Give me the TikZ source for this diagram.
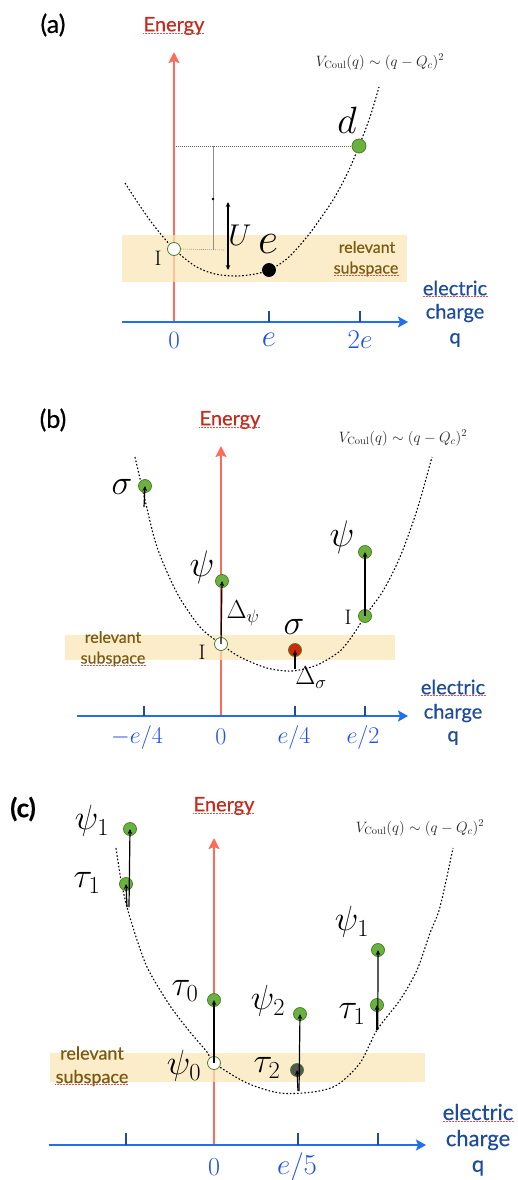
\RequirePackage{fix-cm}
\documentclass[tikz,border=0pt]{standalone}
\usepackage{fontspec}
\newfontfamily\gill{Lato}[RawFeature={embolden=0.5}]
\usepackage{xcolor}
\definecolor{cEnergy}{HTML}{FF6B5B}
\definecolor{cEnergyTxt}{HTML}{C42B1C}
\definecolor{cCharge}{HTML}{1F6FEF}
\definecolor{cTick}{HTML}{1F4FF0}
\definecolor{cChargeTxt}{HTML}{1D4C9C}
\definecolor{cBand}{HTML}{FBE6B4}
\definecolor{cBandTxt}{HTML}{7B5A12}
\definecolor{cGreen}{HTML}{6CB13F}
\definecolor{cGreenEdge}{HTML}{47822A}
\definecolor{cRed}{HTML}{D4260C}
\definecolor{cDark}{HTML}{555555}
\definecolor{cSpell}{HTML}{E8504A}
\usepackage{tikz}
\usetikzlibrary{positioning,arrows.meta}
\newcommand{\fsz}[1]{\fontsize{#1}{#1}\selectfont}
\tikzset{
  axis-energy/.style={draw=cEnergy,line width=2.6pt,
    -{Stealth[length=11pt,width=11pt,inset=2pt]}},
  axis-charge/.style={draw=cCharge,line width=2.6pt,
    -{Stealth[length=10pt,width=11pt,inset=2pt]}},
  tick-mark/.style={draw=cChargeTxt,line width=1.8pt},
  band/.style={fill=cBand,fill opacity=0.7,draw=none},
  curve/.style={draw=black,line width=1.1pt,dash pattern=on 1.6pt off 2pt},
  guide/.style={draw=black!60,line width=0.6pt,dash pattern=on 0.8pt off 1.2pt},
  gap-line/.style={draw=black!45,line width=0.8pt},
  dot/.style={circle,draw=cGreenEdge,line width=0.8pt,minimum size=13pt,inner sep=0pt},
  dot-green/.style={dot,fill=cGreen},
  dot-white/.style={dot,fill=white},
  dot-red/.style={dot,fill=cRed},
  dot-black/.style={dot,fill=black,draw=black},
  dot-dark/.style={dot,fill=cDark},
  dot-tiny/.style={circle,fill=black,minimum size=2.6pt,inner sep=0pt},
  jump/.style={-{Stealth[length=5pt,width=4.5pt]},line width=1.2pt,draw=black},
  u-arrow/.style={{Stealth[length=5pt,width=4.5pt]}-{Stealth[length=5pt,width=4.5pt]},
    line width=1.2pt,draw=black},
  lbl-panel/.style={font=\gill\fsz{25},inner sep=0pt},
  lbl-energy/.style={font=\gill\fsz{20},text=cEnergyTxt,inner sep=0pt},
  lbl-q/.style={font=\gill\fsz{20},text=cChargeTxt,inner sep=0pt},
  lbl-band/.style={font=\gill\fsz{16},text=cBandTxt,inner sep=0pt},
  lbl-tick/.style={text=cTick,inner sep=0pt},
  lbl-V/.style={font=\fsz{15},text=black!85,inner sep=0pt},
  lbl-state/.style={inner sep=0pt},
  spell/.style={draw=cSpell,line width=0.7pt,dash pattern=on 0.6pt off 0.9pt},
}

\begin{document}
\begin{tikzpicture}[x=1pt,y=-1pt]
  \useasboundingbox (0,0) rectangle (518,1180);

  % (a)
  \node[lbl-panel] (a-tag) at (53,25) {(a)};
  \node[lbl-energy] (a-en) at (174,26) {Energy};
  \draw[spell] ([yshift=-2pt]a-en.base west) -- ([yshift=-2pt]a-en.base east);
  \coordinate (a-o) at (174,322);
  \coordinate (a-top) at (174,52);
  \coordinate (a-ql) at (122,322);
  \coordinate (a-qr) at (408,322);
  \draw[axis-energy] (a-o) -- (a-top);
  \draw[axis-charge] (a-ql) -- (a-qr);
  \foreach \x in {269,360} \draw[tick-mark] (\x,322) -- (\x,311);
  \fill[band] (122,235) rectangle (407,282);
  \draw[curve] plot[smooth] coordinates {(125,183) (140,206) (155,227) (174,249)
    (195,266) (215,274) (238,276) (260,273) (275,267) (290,256) (310,233)
    (333,200) (348,172) (359,146) (370,117) (379,87)};
  \node[lbl-V] (a-V) at (380,62) {$V_{\rm Coul}(q)\sim(q-Q_c)^2$};
  \node[dot-white] (a-I) at (174,249) {};
  \node[dot-black] (a-e) at (269,270) {};
  \node[dot-green,minimum size=14pt] (a-d) at (359,146) {};
  \coordinate (a-gl) at (176,146);
  \coordinate (a-gr) at (225,250);
  \draw[guide] (a-gl) -- (a-d.west);
  \draw[guide] (a-I.east) -- (a-gr);
  \coordinate (a-ut) at (213,146);
  \coordinate (a-ub) at (213,250);
  \draw[gap-line] (a-ut) -- (a-ub);
  \node[dot-tiny] (a-um) at (213,199) {};
  \coordinate (a-u1) at (228,202);
  \coordinate (a-u2) at (228,270);
  \draw[u-arrow] (a-u1) -- (a-u2);
  \node[lbl-state,font=\fsz{21}] (a-Il) at (158,258) {$\mathrm{I}$};
  \node[lbl-state,font=\fsz{44}] (a-el) at (268,244) {$e$};
  \node[lbl-state,font=\fsz{38}] (a-dl) at (347,120) {$d$};
  \node[lbl-state,font=\fsz{30}] (a-Ul) at (240,235) {$U$};
  \node[lbl-band] (a-rel) at (367,247) {relevant};
  \node[lbl-band] (a-sub) at (366,269) {subspace};
  \draw[spell] ([yshift=-1.5pt]a-sub.base west) -- ([yshift=-1.5pt]a-sub.base east);
  \node[lbl-tick,font=\fsz{25}] (a-t0) at (174,340) {$0$};
  \node[lbl-tick,font=\fsz{31}] (a-t1) at (269,340) {$e$};
  \node[lbl-tick,font=\fsz{27}] (a-t2) at (360,340) {$2e$};
  \node[lbl-q] (a-q1) at (455,288) {electric};
  \node[lbl-q] (a-q2) at (455,313) {charge};
  \node[lbl-q] (a-q3) at (455,340) {q};
  \draw[spell] ([yshift=-1.5pt]a-q1.base west) -- ([yshift=-1.5pt]a-q1.base east);

  % (b)
  \node[lbl-panel] (b-tag) at (53,420) {(b)};
  \node[lbl-energy] (b-en) at (230,420) {Energy};
  \draw[spell] ([yshift=-2pt]b-en.base west) -- ([yshift=-2pt]b-en.base east);
  \coordinate (b-o) at (221,716);
  \coordinate (b-top) at (221,446);
  \coordinate (b-ql) at (77,716);
  \coordinate (b-qr) at (408,716);
  \draw[axis-energy] (b-o) -- (b-top);
  \draw[axis-charge] (b-ql) -- (b-qr);
  \foreach \x in {144,295,365} \draw[tick-mark] (\x,716) -- (\x,706);
  \fill[band] (65,635) rectangle (395,660);
  \draw[curve] plot[smooth] coordinates {(135,457) (145,500) (157,547) (177,593)
    (200,627) (221,644) (240,657) (267,668) (292,671) (317,665) (340,651)
    (355,632) (365,616) (383,591) (400,557) (417,510) (432,457)};
  \node[lbl-V] (b-V) at (403,438) {$V_{\rm Coul}(q)\sim(q-Q_c)^2$};
  \node[dot-green] (b-sl) at (145,486) {};
  \node[dot-green] (b-p0) at (222,581) {};
  \node[dot-white] (b-I0) at (221,644) {};
  \node[dot-red] (b-s) at (295,650) {};
  \node[dot-green] (b-p2) at (365,552) {};
  \node[dot-green] (b-I2) at (365,616) {};
  \coordinate (b-slb) at (144,507);
  \coordinate (b-sb) at (295,669);
  \draw[jump] (b-slb) -- (b-sl.center);
  \draw[jump] (b-I0.center) -- (b-p0.center);
  \draw[jump] (b-sb) -- (b-s.center);
  \draw[jump] (b-I2.center) -- (b-p2.center);
  \node[lbl-state,font=\fsz{35}] (b-sll) at (122,487) {$\sigma$};
  \node[lbl-state,font=\fsz{37}] (b-p0l) at (202,567) {$\psi$};
  \node[lbl-state,font=\fsz{26}] (b-dpl) at (243,613) {$\Delta_\psi$};
  \node[lbl-state,font=\fsz{21}] (b-I0l) at (202,652) {$\mathrm{I}$};
  \node[lbl-state,font=\fsz{35}] (b-sl2) at (294,627) {$\sigma$};
  \node[lbl-state,font=\fsz{26}] (b-dsl) at (311,678) {$\Delta_\sigma$};
  \node[lbl-state,font=\fsz{37}] (b-p2l) at (342,537) {$\psi$};
  \node[lbl-state,font=\fsz{21}] (b-I2l) at (348,617) {$\mathrm{I}$};
  \node[lbl-band] (b-rel) at (113,637) {relevant};
  \node[lbl-band] (b-sub) at (113,659) {subspace};
  \draw[spell] ([yshift=-1.5pt]b-sub.base west) -- ([yshift=-1.5pt]b-sub.base east);
  \node[lbl-tick,font=\fsz{24}] (b-tm) at (137,737) {$-e/4$};
  \node[lbl-tick,font=\fsz{24}] (b-t0) at (221,737) {$0$};
  \node[lbl-tick,font=\fsz{24}] (b-t1) at (294,737) {$e/4$};
  \node[lbl-tick,font=\fsz{24}] (b-t2) at (363,737) {$e/2$};
  \node[lbl-q] (b-q1) at (453,687) {electric};
  \node[lbl-q] (b-q2) at (453,713) {charge};
  \node[lbl-q] (b-q3) at (453,738) {q};
  \draw[spell] ([yshift=-1.5pt]b-q1.base west) -- ([yshift=-1.5pt]b-q1.base east);

  % (c)
  \node[lbl-panel,font=\gill\bfseries\fsz{26}] (c-tag) at (23,809) {(c)};
  \node[lbl-energy] (c-en) at (224,806) {Energy};
  \draw[spell] ([yshift=-2pt]c-en.base west) -- ([yshift=-2pt]c-en.base east);
  \coordinate (c-o) at (214,1145);
  \coordinate (c-top) at (214,838);
  \coordinate (c-ql) at (49,1145);
  \coordinate (c-qr) at (426,1145);
  \draw[axis-energy] (c-o) -- (c-top);
  \draw[axis-charge] (c-ql) -- (c-qr);
  \foreach \x in {126,298,378} \draw[tick-mark] (\x,1145) -- (\x,1133);
  \fill[band] (50,1053) rectangle (425,1082);
  \draw[curve] plot[smooth] coordinates {(116,848) (121,880) (127,907) (137,940)
    (147,967) (160,990) (173,1010) (190,1032) (207,1052) (214,1063) (247,1083)
    (280,1093) (313,1092) (337,1085) (360,1063) (377,1030) (400,1000) (417,970)
    (430,933) (440,907) (453,848)};
  \node[lbl-V] (c-V) at (420,828) {$V_{\rm Coul}(q)\sim(q-Q_c)^2$};
  \node[dot-green] (c-p1l) at (130,829) {};
  \node[dot-green] (c-t1l) at (126,884) {};
  \node[dot-green] (c-t0) at (214,1000) {};
  \node[dot-white] (c-p0) at (214,1063) {};
  \node[dot-green] (c-p2) at (300,1014) {};
  \node[dot-dark] (c-t2) at (297,1070) {};
  \node[dot-green] (c-p1r) at (378,950) {};
  \node[dot-green] (c-t1r) at (377,1005) {};
  \coordinate (c-bl) at (127,907);
  \coordinate (c-bm) at (298,1091);
  \coordinate (c-br) at (377,1030);
  \draw[jump] (c-bl) -- (c-t1l.center);
  \draw[jump] ([xshift=2pt]c-bl) -- (c-p1l.center);
  \draw[jump] (c-p0.center) -- (c-t0.center);
  \draw[jump] (c-bm) -- (c-t2.center);
  \draw[jump] ([xshift=1pt]c-bm) -- (c-p2.center);
  \draw[jump] (c-br) -- (c-t1r.center);
  \draw[jump] ([xshift=0.8pt]c-br) -- (c-p1r.center);
  \node[lbl-state,font=\fsz{35}] (c-p1ll) at (92,821) {$\psi_1$};
  \node[lbl-state,font=\fsz{35}] (c-t1ll) at (87,883) {$\tau_1$};
  \node[lbl-state,font=\fsz{35}] (c-t0l) at (185,991) {$\tau_0$};
  \node[lbl-state,font=\fsz{35}] (c-p0l) at (184,1066) {$\psi_0$};
  \node[lbl-state,font=\fsz{35}] (c-p2l) at (268,1001) {$\psi_2$};
  \node[lbl-state,font=\fsz{35}] (c-t2l) at (267,1068) {$\tau_2$};
  \node[lbl-state,font=\fsz{35}] (c-p1rl) at (352,922) {$\psi_1$};
  \node[lbl-state,font=\fsz{35}] (c-t1rl) at (352,1014) {$\tau_1$};
  \node[lbl-band,font=\gill\fsz{18}] (c-rel) at (92,1053) {relevant};
  \node[lbl-band,font=\gill\fsz{18}] (c-sub) at (92,1078) {subspace};
  \draw[spell] ([yshift=-1.5pt]c-sub.base west) -- ([yshift=-1.5pt]c-sub.base east);
  \node[lbl-tick,font=\fsz{26}] (c-t0t) at (214,1167) {$0$};
  \node[lbl-tick,font=\fsz{29}] (c-t1t) at (297,1167) {$e/5$};
  \node[lbl-q,font=\gill\fsz{22}] (c-q1) at (478,1112) {electric};
  \node[lbl-q,font=\gill\fsz{22}] (c-q2) at (478,1140) {charge};
  \node[lbl-q,font=\gill\fsz{22}] (c-q3) at (478,1168) {q};
  \draw[spell] ([yshift=-1.5pt]c-q1.base west) -- ([yshift=-1.5pt]c-q1.base east);
\end{tikzpicture}
\end{document}
